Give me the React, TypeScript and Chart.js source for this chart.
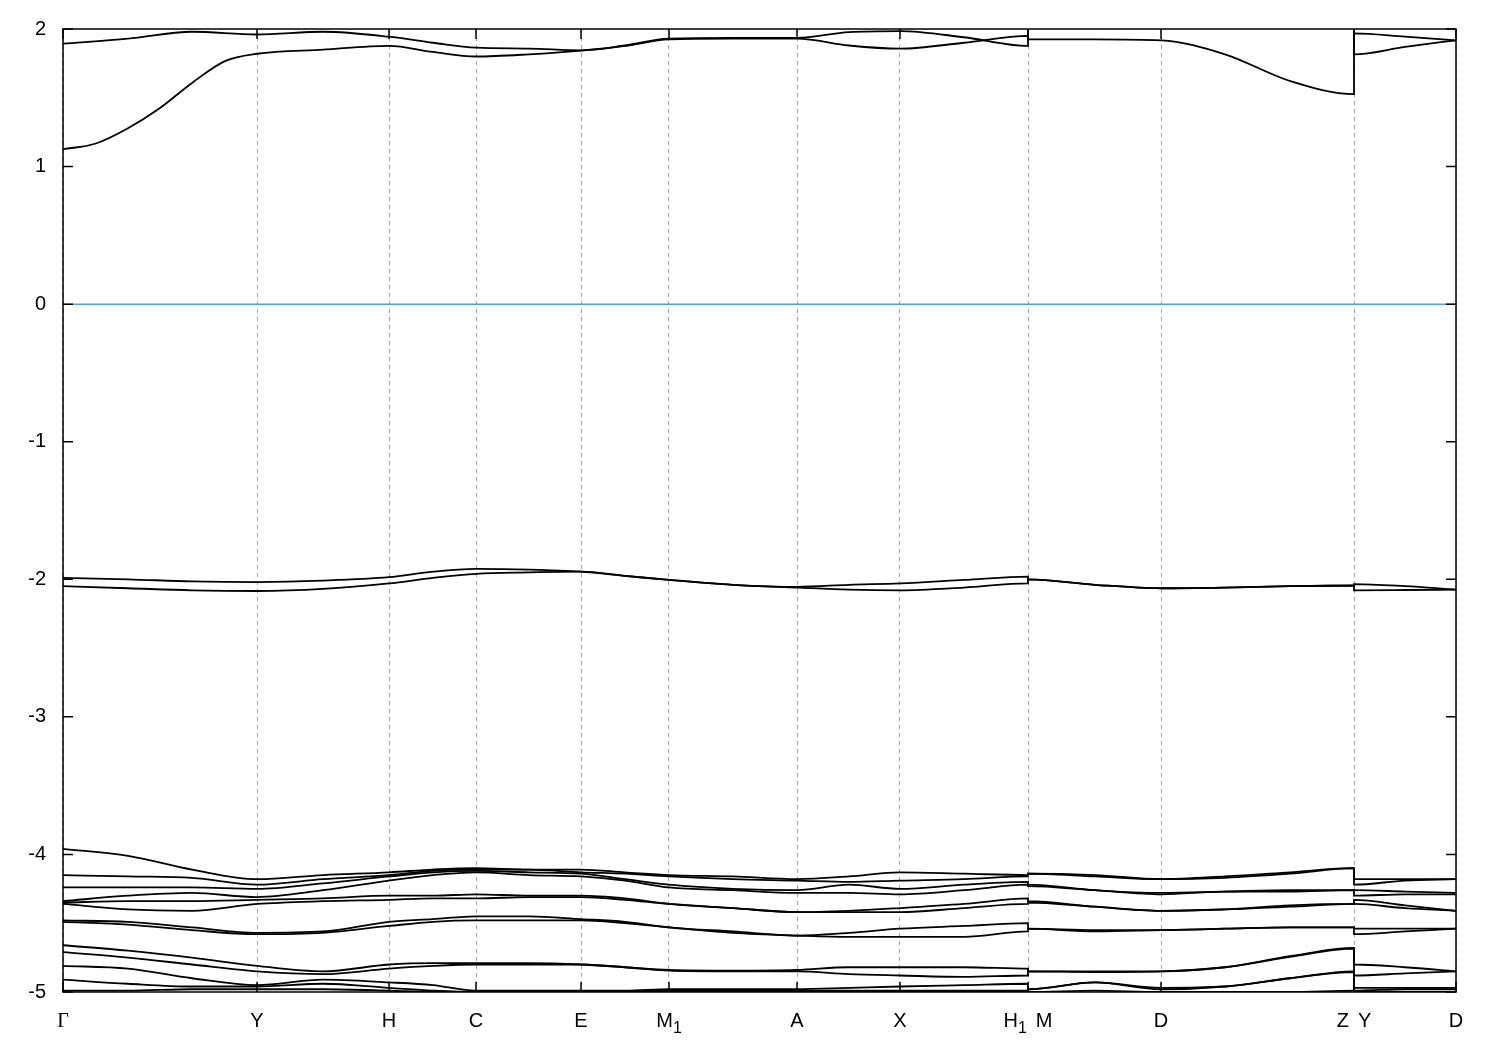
import React, { useEffect, useRef } from 'react';
import { Chart, registerables } from 'chart.js';
Chart.register(...registerables);

// k-path coordinates (segment 1: Γ..H1, segment 2: M..Z, segment 3: Y..D)
const kSeg1 = [0, 0.65, 1.29, 1.94, 2.6, 3.26, 3.7, 4.13, 4.66, 5.18, 5.62, 6.06, 6.7, 7.34, 7.86, 8.37, 9.01, 9.65];
const kSeg2 = [9.65, 10.32, 10.98, 11.62, 12.27, 12.91];
const kSeg3 = [12.91, 13.42, 13.93];
const kPath = [...kSeg1, ...kSeg2, ...kSeg3];
// finer sampling of the Γ–Y stretch for the lowest conduction band
const kGammaYFine = [0, 0.32, 0.65, 0.97, 1.29, 1.62];

const kTicks = [0, 1.94, 3.26, 4.13, 5.18, 6.06, 7.34, 8.37, 9.65, 10.98, 12.91, 13.93];
const kLabels = ['Γ', 'Y', 'H', 'C', 'E', 'M_1', 'A', 'X', 'H_1 M', 'D', 'Z Y', 'D'];
const yTickValues = [-5, -4, -3, -2, -1, 0, 1, 2];
const fermiLevel = 0;

// conduction bands
const bandC1GammaY = [1.126, 1.166, 1.279, 1.426, 1.608, 1.767];
const bandC1 = [1.82, 1.85, 1.877, 1.833, 1.80, 1.816, 1.843, 1.877, 1.925, 1.93, 1.93, 1.88, 1.857, 1.90, 1.95,
  1.925, 1.925, 1.918, 1.816, 1.622, 1.526,
  1.968, 1.944, 1.918];
const bandC2 = [1.893, 1.93, 1.98, 1.96, 1.98, 1.944, 1.90, 1.864, 1.858, 1.845, 1.88, 1.93, 1.935, 1.935, 1.978, 1.985, 1.94, 1.877,
  2.1, 2.1, 2.1, 2.1, 2.1, 2.1,
  1.816, 1.87, 1.918];

// bands near -2 eV
const bandD1 = [-1.99, -2.0, -2.015, -2.02, -2.01, -1.985, -1.945, -1.925, -1.93, -1.945, -1.975, -2.005, -2.04, -2.055, -2.04, -2.03, -2.005, -1.98,
  -2.0, -2.04, -2.065, -2.06, -2.05, -2.045,
  -2.035, -2.05, -2.075];
const bandD2 = [-2.05, -2.065, -2.08, -2.085, -2.07, -2.03, -1.99, -1.96, -1.95, -1.945, -1.975, -2.005, -2.04, -2.06, -2.075, -2.08, -2.06, -2.03,
  -2.0, -2.04, -2.065, -2.06, -2.05, -2.045,
  -2.08, -2.078, -2.075];

// valence bands between -4 and -5 eV
const bandV1 = [-3.96, -4.01, -4.11, -4.18, -4.15, -4.13, -4.11, -4.10, -4.11, -4.11, -4.13, -4.15, -4.16, -4.18, -4.16, -4.13, -4.14, -4.15,
  -4.14, -4.15, -4.18, -4.16, -4.13, -4.10, -4.18, -4.18, -4.18];
const bandV2 = [-4.15, -4.16, -4.17, -4.22, -4.18, -4.15, -4.12, -4.11, -4.11, -4.13, -4.14, -4.16, -4.18, -4.19, -4.20, -4.19, -4.18, -4.16,
  -4.14, -4.16, -4.18, -4.17, -4.14, -4.10, -4.22, -4.19, -4.18];
const bandV3 = [-4.24, -4.24, -4.24, -4.25, -4.21, -4.16, -4.13, -4.12, -4.13, -4.14, -4.18, -4.22, -4.25, -4.26, -4.22, -4.25, -4.22, -4.20,
  -4.22, -4.26, -4.28, -4.27, -4.26, -4.26, -4.26, -4.27, -4.28];
const bandV4 = [-4.34, -4.30, -4.28, -4.31, -4.26, -4.19, -4.15, -4.13, -4.15, -4.16, -4.19, -4.24, -4.26, -4.28, -4.28, -4.29, -4.26, -4.22,
  -4.23, -4.26, -4.29, -4.27, -4.27, -4.26, -4.30, -4.29, -4.29];
const bandV5 = [-4.35, -4.34, -4.34, -4.33, -4.32, -4.30, -4.30, -4.29, -4.30, -4.30, -4.32, -4.36, -4.39, -4.42, -4.41, -4.39, -4.36, -4.32,
  -4.34, -4.38, -4.41, -4.40, -4.37, -4.36, -4.33, -4.37, -4.41];
const bandV6 = [-4.36, -4.40, -4.41, -4.36, -4.34, -4.33, -4.32, -4.32, -4.31, -4.31, -4.33, -4.36, -4.39, -4.42, -4.42, -4.42, -4.39, -4.36,
  -4.35, -4.38, -4.41, -4.40, -4.38, -4.36, -4.36, -4.39, -4.41];
const bandV7 = [-4.48, -4.49, -4.53, -4.57, -4.56, -4.49, -4.47, -4.45, -4.45, -4.47, -4.49, -4.53, -4.56, -4.59, -4.57, -4.54, -4.52, -4.50,
  -4.54, -4.55, -4.55, -4.54, -4.53, -4.53, -4.54, -4.54, -4.54];
const bandV8 = [-4.49, -4.51, -4.55, -4.58, -4.57, -4.52, -4.49, -4.48, -4.48, -4.48, -4.50, -4.53, -4.57, -4.59, -4.60, -4.60, -4.60, -4.56,
  -4.54, -4.56, -4.55, -4.54, -4.53, -4.53, -4.58, -4.56, -4.54];
const bandV9 = [-4.66, -4.70, -4.75, -4.81, -4.85, -4.80, -4.79, -4.79, -4.79, -4.80, -4.82, -4.84, -4.845, -4.84, -4.82, -4.82, -4.82, -4.83,
  -4.85, -4.85, -4.85, -4.82, -4.74, -4.68, -4.80, -4.82, -4.85];
const bandV10 = [-4.71, -4.75, -4.80, -4.85, -4.87, -4.83, -4.81, -4.80, -4.80, -4.80, -4.82, -4.845, -4.85, -4.85, -4.87, -4.88, -4.89, -4.88,
  -4.85, -4.855, -4.85, -4.82, -4.745, -4.685, -4.88, -4.865, -4.85];
const bandV11 = [-4.81, -4.83, -4.90, -4.95, -4.91, -4.93, -4.95, -4.99, -4.99, -4.99, -4.99, -4.98, -4.98, -4.98, -4.97, -4.96, -4.95, -4.94,
  -4.98, -4.93, -4.97, -4.96, -4.90, -4.85, -4.97, -4.97, -4.97];
const bandV12 = [-4.91, -4.94, -4.96, -4.96, -4.94, -4.97, -4.99, -5.0, -5.0, -5.0, -4.995, -4.99, -4.99, -4.99, -4.99, -4.99, -4.99, -4.99,
  -4.98, -4.93, -4.98, -4.96, -4.90, -4.855, -4.99, -4.98, -4.98];
const bandV13 = [-4.99, -4.99, -4.98, -4.98, -4.98, -4.99, -5.0, -5.0, -5.01, -5.01, -5.0, -5.0, -5.0, -5.0, -5.0, -5.0, -5.0, -5.0,
  -5.0, -4.99, -5.0, -5.0, -5.0, -4.99, -5.0, -5.0, -5.0];

const gridBands = [bandC2, bandD1, bandD2, bandV1, bandV2, bandV3, bandV4, bandV5, bandV6, bandV7, bandV8, bandV9, bandV10, bandV11, bandV12, bandV13];

const FONT = '"Liberation Sans", Arial, sans-serif';
const SERIF = '"Liberation Serif", "Times New Roman", serif';

export default function App() {
  const ref = useRef<HTMLCanvasElement>(null);

  useEffect(() => {
    if (!ref.current) return;
    const framePlugin = {
      id: 'framePlugin',
      afterDatasetsDraw(chart: any) {
        const { ctx, chartArea: a, scales } = chart;
        ctx.save();
        ctx.strokeStyle = '#000';
        ctx.lineWidth = 1.5;
        ctx.beginPath();
        yTickValues.forEach((v) => {
          const y = scales.y.getPixelForValue(v);
          ctx.moveTo(a.left, y);
          ctx.lineTo(a.left + 10, y);
          ctx.moveTo(a.right, y);
          ctx.lineTo(a.right - 10, y);
        });
        kTicks.forEach((k) => {
          const x = scales.x.getPixelForValue(k);
          ctx.moveTo(x, a.top);
          ctx.lineTo(x, a.top + 10);
          ctx.moveTo(x, a.bottom);
          ctx.lineTo(x, a.bottom - 10);
        });
        ctx.stroke();
        ctx.strokeRect(a.left, a.top, a.right - a.left, a.bottom - a.top);

        // x tick labels with gnuplot-style subscripts ("_1")
        ctx.fillStyle = '#000';
        ctx.textBaseline = 'alphabetic';
        ctx.textAlign = 'left';
        const baseY = a.bottom + 35;
        kTicks.forEach((k, i) => {
          const label = kLabels[i];
          const runs: { t: string; sub: boolean }[] = [];
          for (let j = 0; j < label.length; j++) {
            if (label[j] === '_' && j + 1 < label.length) {
              runs.push({ t: label[j + 1], sub: true });
              j++;
            } else {
              runs.push({ t: label[j], sub: false });
            }
          }
          const fontFor = (r: { t: string; sub: boolean }) => {
            const greek = /[\u0370-\u03ff]/.test(r.t);
            const size = r.sub ? 16 : 20;
            return `${size}px ${greek ? SERIF : FONT}`;
          };
          const widths = runs.map((r) => {
            ctx.font = fontFor(r);
            const w = ctx.measureText(r.t).width;
            return r.t === ' ' ? w * 1.6 : w;
          });
          const total = widths.reduce((s, w) => s + w, 0);
          let x = scales.x.getPixelForValue(k) - total / 2;
          runs.forEach((r, j) => {
            ctx.font = fontFor(r);
            if (r.t !== ' ') ctx.fillText(r.t, x, r.sub ? baseY + 6 : baseY);
            x += widths[j];
          });
        });
        ctx.restore();
      },
    };

    const lineStyle = {
      borderColor: '#000',
      borderWidth: 1.8,
      pointRadius: 0,
      fill: false,
      cubicInterpolationMode: 'monotone',
    };

    const c1Points = [
      ...bandC1GammaY.map((e, i) => ({ x: kGammaYFine[i], y: e })),
      ...bandC1.map((e, i) => ({ x: kPath[i + 3], y: e })),
    ];

    const datasets: any[] = [{ ...lineStyle, data: c1Points }];
    gridBands.forEach((band) => {
      datasets.push({ ...lineStyle, data: band.map((e, i) => ({ x: kPath[i], y: e })) });
    });
    datasets.push({
      data: [
        { x: kTicks[0], y: fermiLevel },
        { x: kTicks[kTicks.length - 1], y: fermiLevel },
      ],
      borderColor: '#4aa6dc',
      borderWidth: 1.5,
      pointRadius: 0,
      fill: false,
    });

    const chart = new Chart(ref.current, {
      type: 'line',
      data: { datasets },
      plugins: [framePlugin],
      options: {
        animation: false,
        responsive: false,
        devicePixelRatio: 1,
        events: [],
        layout: { padding: { top: 28, right: 44, left: 0, bottom: 0 } },
        plugins: { legend: { display: false }, tooltip: { enabled: false } },
        scales: {
          x: {
            type: 'linear',
            min: kTicks[0],
            max: kTicks[kTicks.length - 1],
            afterBuildTicks: (scale: any) => {
              scale.ticks = kTicks.map((v) => ({ value: v }));
            },
            afterFit: (scale: any) => {
              scale.height = 58;
            },
            ticks: { display: false, autoSkip: false, maxRotation: 0 },
            grid: { color: '#a6a6a6', lineWidth: 1, drawTicks: false },
            border: { display: false, dash: [4, 4] },
          },
          y: {
            type: 'linear',
            min: -5,
            max: 2,
            afterBuildTicks: (scale: any) => {
              scale.ticks = yTickValues.map((v) => ({ value: v }));
            },
            afterFit: (scale: any) => {
              scale.width = 63;
            },
            ticks: {
              padding: 17,
              color: '#000',
              font: { family: FONT, size: 20 },
              callback: (v: any) => String(v),
            },
            grid: { display: false, drawTicks: false },
            border: { display: false },
          },
        },
      },
    } as any);
    return () => chart.destroy();
  }, []);

  return (
    <div style={{ position: 'fixed', left: 0, top: 0, width: 1500, height: 1050, background: '#fff' }}>
      <canvas ref={ref} width={1500} height={1050} />
    </div>
  );
}
